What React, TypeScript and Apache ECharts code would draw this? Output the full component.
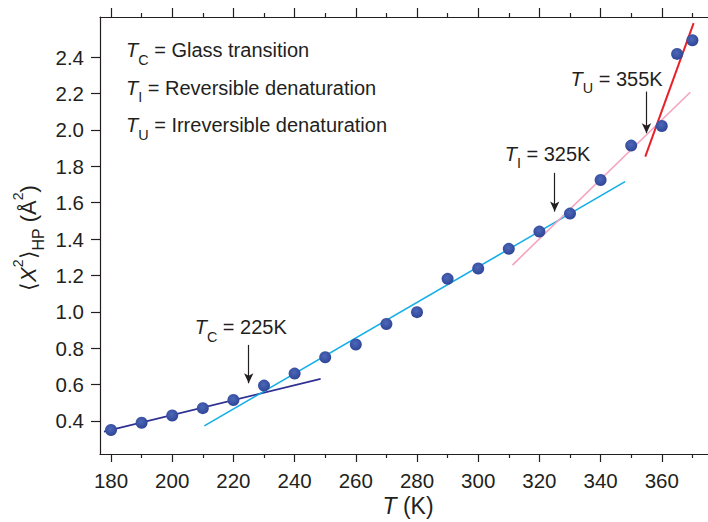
import React, { useEffect, useRef } from 'react';
import * as echarts from 'echarts';

// Mean-square displacement of hydrogen atoms vs temperature
const temperatures = [180, 190, 200, 210, 220, 230, 240, 250, 260, 270, 280, 290, 300, 310, 320, 330, 340, 350, 360, 365, 370];
const msdValues = [0.35, 0.39, 0.43, 0.47, 0.515, 0.594, 0.66, 0.75, 0.82, 0.933, 0.998, 1.181, 1.238, 1.346, 1.441, 1.54, 1.725, 1.914, 2.022, 2.418, 2.493];

// Linear fits for each regime (end points)
const glassFitT = [177.7, 248.5];
const glassFitY = [0.341, 0.631];
const harmonicFitT = [210.5, 348.0];
const harmonicFitY = [0.3725, 1.716];
const reversibleFitT = [311.2, 369.3];
const reversibleFitY = [1.257, 2.207];
const irreversibleFitT = [354.6, 370.4];
const irreversibleFitY = [1.853, 2.587];

// Transition temperatures and their arrows
const transitionT = [225, 325, 355];
const transitionSub = ['C', 'I', 'U'];
const arrowTopY = [0.818, 1.764, 2.211];
const arrowTipY = [0.607, 1.551, 1.982];

const legendSubs = ['C', 'I', 'U'];
const legendTexts = ['Glass transition', 'Reversible denaturation', 'Irreversible denaturation'];

const xMajorTicks = [180, 200, 220, 240, 260, 280, 300, 320, 340, 360];
const xMinorTicks = [190, 210, 230, 250, 270, 290, 310, 330, 350, 370];
const yTicks = [0.4, 0.6, 0.8, 1.0, 1.2, 1.4, 1.6, 1.8, 2.0, 2.2, 2.4];

const X_MIN = 176.4;
const X_MAX = 375.1;
const Y_MIN = 0.218;
const Y_MAX = 2.621;

const FONT = '"Liberation Sans", Arial, Helvetica, sans-serif';
const INK = '#231f20';

function richStyles(size: number) {
  const L = Math.round(size * 1.6);
  const subSize = size * 0.72;
  const supSize = size * 0.64;
  const subPad = L / 2 + 0.4 * size + 0.33 * (size - subSize) - subSize / 2;
  const supPad = Math.max(0, L / 2 - 0.38 * size - 0.33 * (size - supSize) - supSize / 2);
  const base = { fontFamily: FONT, fill: INK };
  return {
    n: { ...base, fontSize: size, lineHeight: L },
    it: { ...base, fontSize: size, lineHeight: L, fontStyle: 'italic' },
    sub: { ...base, fontSize: subSize, lineHeight: L, verticalAlign: 'top', padding: [subPad, 0, 0, 0] },
    sup: { ...base, fontSize: supSize, lineHeight: L, verticalAlign: 'top', padding: [supPad, 0, 0, 0] },
  };
}

function fitSeries(name: string, xs: number[], ys: number[], color: string, width: number) {
  return {
    name,
    type: 'line',
    data: xs.map((x, i) => [x, ys[i]]),
    showSymbol: false,
    symbol: 'none',
    lineStyle: { color, width },
    silent: true,
    z: 2,
  };
}

export default function App() {
  const ref = useRef<HTMLDivElement>(null);

  useEffect(() => {
    if (!ref.current) return;
    const chart = echarts.init(ref.current, undefined, { renderer: 'svg' });

    const axisLine = { show: true, lineStyle: { color: INK, width: 1.2 } };
    const tickLine = { color: INK, width: 1.2 };
    const xBase = { type: 'value', min: X_MIN, max: X_MAX, splitLine: { show: false } };

    chart.setOption({
      animation: false,
      backgroundColor: '#ffffff',
      grid: { left: 100, right: 0, top: 17, bottom: 68 },
      xAxis: [
        {
          ...xBase,
          position: 'bottom',
          axisLine,
          axisTick: { show: true, length: 8, customValues: xMajorTicks, lineStyle: tickLine },
          axisLabel: {
            customValues: xMajorTicks,
            margin: 16,
            fontSize: 20.5,
            color: INK,
            fontFamily: FONT,
          },
        },
        {
          ...xBase,
          position: 'bottom',
          axisLine: { show: false },
          axisTick: { show: true, length: 4, customValues: xMinorTicks, lineStyle: tickLine },
          axisLabel: { show: false },
        },
        {
          ...xBase,
          position: 'top',
          axisLine,
          axisTick: { show: true, length: 9, customValues: xMajorTicks, lineStyle: tickLine },
          axisLabel: { show: false },
        },
        {
          ...xBase,
          position: 'top',
          axisLine: { show: false },
          axisTick: { show: true, length: 4, customValues: xMinorTicks, lineStyle: tickLine },
          axisLabel: { show: false },
        },
      ],
      yAxis: {
        type: 'value',
        min: Y_MIN,
        max: Y_MAX,
        position: 'left',
        splitLine: { show: false },
        axisLine,
        axisTick: { show: true, length: 9, customValues: yTicks, lineStyle: tickLine },
        axisLabel: {
          customValues: yTicks,
          formatter: (v: number) => v.toFixed(1),
          margin: 16,
          fontSize: 20.5,
          color: INK,
          fontFamily: FONT,
        },
      },
      series: [
        fitSeries('glass', glassFitT, glassFitY, '#2e3192', 1.6),
        fitSeries('harmonic', harmonicFitT, harmonicFitY, '#13aee8', 1.6),
        fitSeries('reversible', reversibleFitT, reversibleFitY, '#f5a3bf', 1.6),
        fitSeries('irreversible', irreversibleFitT, irreversibleFitY, '#e8202a', 2),
        {
          name: 'msd',
          type: 'scatter',
          data: temperatures.map((t, i) => [t, msdValues[i]]),
          symbol: 'circle',
          symbolSize: 12,
          itemStyle: {
            color: new echarts.graphic.RadialGradient(0.45, 0.4, 0.6, [
              { offset: 0, color: '#4d68b8' },
              { offset: 1, color: '#2f4597' },
            ]),
            opacity: 1,
          },
          z: 3,
          markLine: {
            silent: true,
            symbol: ['none', 'arrow'],
            symbolSize: [7, 10],
            lineStyle: { color: INK, width: 1.2, type: 'solid' },
            label: { show: false },
            data: transitionT.map((t, i) => [
              { coord: [t, arrowTopY[i]] },
              { coord: [t, arrowTipY[i]] },
            ]),
          },
        },
      ],
    });

    // Text annotations placed relative to the arrow tops
    const labelOffsets = [
      { dx: -54, dy: -18 },
      { dx: -50, dy: -19 },
      { dx: -76, dy: -13 },
    ];
    const annotations = transitionT.map((t, i) => {
      const p = chart.convertToPixel({ xAxisIndex: 0, yAxisIndex: 0 }, [t, arrowTopY[i]]) as number[];
      return {
        type: 'text',
        x: p[0] + labelOffsets[i].dx,
        y: p[1] + labelOffsets[i].dy,
        style: {
          text: `{it|T}{sub|${transitionSub[i]}}{n| = ${t}K}`,
          rich: richStyles(20),
          align: 'left',
          verticalAlign: 'middle',
        },
        silent: true,
      };
    });

    const legend = legendTexts.map((txt, i) => ({
      type: 'text',
      x: 126,
      y: 50 + i * 37.6,
      style: {
        text: `{it|T}{sub|${legendSubs[i]}}{n| = ${txt}}`,
        rich: richStyles(20),
        align: 'left',
        verticalAlign: 'middle',
      },
      silent: true,
    }));

    chart.setOption({
      graphic: [
        ...legend,
        ...annotations,
        {
          type: 'text',
          x: 408,
          y: 506,
          style: {
            text: '{it|T}{n| (K)}',
            rich: richStyles(23),
            align: 'center',
            verticalAlign: 'middle',
          },
          silent: true,
        },
        {
          type: 'text',
          x: 28,
          y: 238,
          rotation: Math.PI / 2,
          style: {
            text: '{n|\u27E8}{it|X}{sup|2}{n|\u27E9}{sub|HP}{n| (\u00C5}{sup|2}{n|)}',
            rich: richStyles(22),
            align: 'center',
            verticalAlign: 'middle',
          },
          silent: true,
        },
      ],
    });

    return () => chart.dispose();
  }, []);

  return <div ref={ref} style={{ width: 708, height: 522, position: 'absolute', left: 0, top: 0 }} />;
}
